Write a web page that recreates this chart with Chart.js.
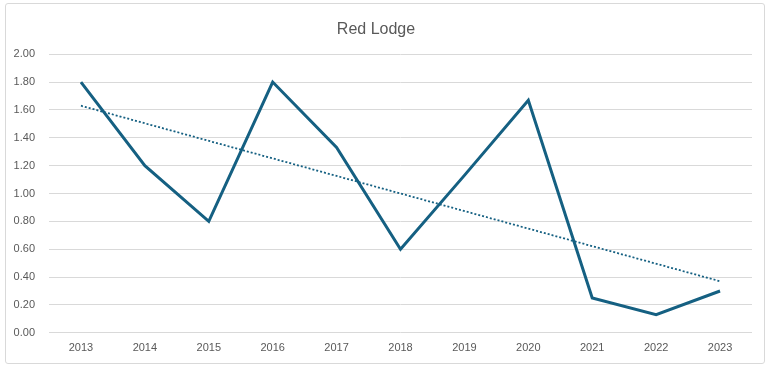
<!DOCTYPE html>
<html>
<head>
<meta charset="utf-8">
<script src="https://cdn.jsdelivr.net/npm/chart.js@4.4.1/dist/chart.umd.min.js"></script>
<style>
  html, body { margin: 0; padding: 0; background: #fff; }
  #wrap { position: relative; width: 768px; height: 368px; }
  #frame { position: absolute; left: 5px; top: 3px; width: 758px; height: 359px;
           border: 1px solid #d9d9d9; border-radius: 3px; pointer-events: none; }
  canvas { position: absolute; left: 0; top: 0; }
</style>
</head>
<body>
<div id="wrap">
  <canvas id="chart" width="768" height="368"></canvas>
  <div id="frame"></div>
</div>
<script>
// data
const years = ['2013', '2014', '2015', '2016', '2017', '2018', '2019', '2020', '2021', '2022', '2023'];
const values = [1.80, 1.20, 0.80, 1.80, 1.33, 0.60, 1.13, 1.67, 0.25, 0.13, 0.30];
// dotted linear trend line, end points
const trendStart = 1.63;
const trendEnd = 0.37;

const trend = years.map((_, i) => i === 0 ? trendStart : (i === years.length - 1 ? trendEnd : null));

const lineColor = '#156082';
const textColor = '#595959';

new Chart(document.getElementById('chart').getContext('2d'), {
  type: 'line',
  data: {
    labels: years,
    datasets: [
      {
        label: 'Red Lodge',
        data: values,
        borderColor: lineColor,
        borderWidth: 3,
        pointRadius: 0,
        tension: 0,
        fill: false,
        order: 1
      },
      {
        label: 'Trend',
        data: trend,
        borderColor: lineColor,
        borderWidth: 1.8,
        borderDash: [2, 2],
        pointRadius: 0,
        spanGaps: true,
        fill: false,
        order: 2
      }
    ]
  },
  options: {
    responsive: false,
    animation: false,
    layout: { padding: { left: 0, right: 16, top: 0, bottom: 4 } },
    plugins: {
      legend: { display: false },
      tooltip: { enabled: false },
      title: {
        display: true,
        text: 'Red Lodge',
        color: textColor,
        font: { family: 'Liberation Sans, Arial, sans-serif', size: 16, weight: 'normal' },
        padding: { top: 20, bottom: 15 }
      }
    },
    scales: {
      x: {
        offset: true,
        grid: { display: false, drawTicks: false },
        border: { display: false },
        ticks: {
          color: textColor,
          font: { family: 'Liberation Sans, Arial, sans-serif', size: 11 },
          padding: 9,
          maxRotation: 0
        }
      },
      y: {
        min: 0,
        max: 2,
        afterFit: s => { s.width = 49; },
        grid: { color: '#d9d9d9', lineWidth: 1, drawTicks: false },
        border: { display: false },
        ticks: {
          stepSize: 0.2,
          color: textColor,
          font: { family: 'Liberation Sans, Arial, sans-serif', size: 11 },
          padding: 14,
          callback: v => v.toFixed(2)
        }
      }
    }
  }
});
</script>
</body>
</html>
